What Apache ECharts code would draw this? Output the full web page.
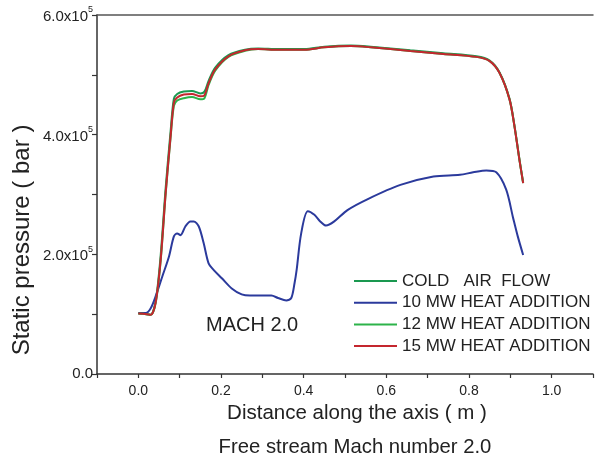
<!DOCTYPE html>
<html><head><meta charset="utf-8">
<script src="https://cdn.jsdelivr.net/npm/echarts@6/dist/echarts.min.js"></script>
<style>html,body{margin:0;padding:0;background:#fff}#c{width:596px;height:462px}</style>
</head><body><div id="c"></div>
<script>
// Distance along the axis (m) for the three upper curves
const topX = [0, 0.02, 0.03, 0.042, 0.054, 0.066, 0.078, 0.086, 0.094, 0.11, 0.13, 0.15, 0.16, 0.17, 0.186, 0.218, 0.258, 0.29, 0.338, 0.402, 0.45, 0.514, 0.562, 0.658, 0.738, 0.818, 0.85, 0.874, 0.898, 0.91, 0.922, 0.931];
const coldAir = [1.01e5, 1.0e5, 0.99e5, 1.22e5, 1.98e5, 3.10e5, 4.05e5, 4.60e5, 4.68e5, 4.72e5, 4.73e5, 4.69e5, 4.72e5, 4.90e5, 5.12e5, 5.33e5, 5.42e5, 5.44e5, 5.43e5, 5.43e5, 5.47e5, 5.49e5, 5.47e5, 5.41e5, 5.36e5, 5.31e5, 5.24e5, 5.04e5, 4.60e5, 4.15e5, 3.59e5, 3.20e5];
const mw12 = [1.01e5, 1.0e5, 0.99e5, 1.19e5, 1.89e5, 3.0e5, 3.95e5, 4.48e5, 4.57e5, 4.61e5, 4.63e5, 4.59e5, 4.61e5, 4.83e5, 5.07e5, 5.30e5, 5.40e5, 5.43e5, 5.42e5, 5.42e5, 5.46e5, 5.48e5, 5.46e5, 5.40e5, 5.35e5, 5.30e5, 5.23e5, 5.03e5, 4.59e5, 4.14e5, 3.58e5, 3.19e5];
const mw15 = [1.01e5, 1.0e5, 0.99e5, 1.20e5, 1.91e5, 3.02e5, 3.97e5, 4.53e5, 4.62e5, 4.67e5, 4.68e5, 4.64e5, 4.66e5, 4.86e5, 5.09e5, 5.31e5, 5.41e5, 5.43e5, 5.42e5, 5.42e5, 5.46e5, 5.48e5, 5.46e5, 5.40e5, 5.35e5, 5.30e5, 5.23e5, 5.03e5, 4.59e5, 4.14e5, 3.58e5, 3.19e5];
// 10 MW curve
const blueX = [0, 0.018, 0.03, 0.042, 0.058, 0.074, 0.086, 0.094, 0.102, 0.114, 0.126, 0.134, 0.146, 0.158, 0.17, 0.182, 0.202, 0.226, 0.25, 0.27, 0.298, 0.322, 0.338, 0.358, 0.37, 0.378, 0.383, 0.394, 0.41, 0.426, 0.44, 0.454, 0.474, 0.506, 0.554, 0.634, 0.714, 0.778, 0.81, 0.842, 0.866, 0.89, 0.906, 0.918, 0.931];
const mw10 = [1.02e5, 1.02e5, 1.1e5, 1.3e5, 1.63e5, 1.96e5, 2.30e5, 2.35e5, 2.32e5, 2.47e5, 2.55e5, 2.55e5, 2.47e5, 2.19e5, 1.85e5, 1.74e5, 1.60e5, 1.43e5, 1.33e5, 1.31e5, 1.31e5, 1.31e5, 1.27e5, 1.23e5, 1.27e5, 1.52e5, 1.74e5, 2.35e5, 2.72e5, 2.66e5, 2.55e5, 2.48e5, 2.55e5, 2.74e5, 2.92e5, 3.16e5, 3.30e5, 3.33e5, 3.37e5, 3.40e5, 3.37e5, 3.08e5, 2.63e5, 2.30e5, 1.99e5];
const seriesNames = ['COLD   AIR  FLOW', '10 MW HEAT ADDITION', '12 MW HEAT ADDITION', '15 MW HEAT ADDITION'];
const seriesColors = ['#1a9850', '#2b3a9c', '#2db34a', '#c4262e'];

const pair = (xs, ys) => xs.map((x, i) => [x, ys[i]]);
const seriesData = [pair(topX, coldAir), pair(blueX, mw10), pair(topX, mw12), pair(topX, mw15)];

const chart = echarts.init(document.getElementById('c'), null, {renderer: 'canvas'});
const font = 'Liberation Sans, Arial, sans-serif';
const txt = '#222';
chart.setOption({
  animation: false,
  backgroundColor: '#fff',
  textStyle: {fontFamily: font},
  grid: {left: 97, top: 15, width: 500, height: 359, containLabel: false},
  legend: {
    orient: 'vertical', left: 349, top: 266, itemWidth: 43, itemHeight: 2, itemGap: 1.7, icon: 'rect',
    textStyle: {fontSize: 17, lineHeight: 20, color: txt, fontFamily: font},
    data: seriesNames
  },
  xAxis: [{
    type: 'value', min: -0.1, max: 1.1, interval: 0.1,
    axisLine: {onZero: false, lineStyle: {color: '#333', width: 1.5}},
    axisTick: {length: 4, inside: false, lineStyle: {color: '#333', width: 1.2}},
    splitLine: {show: false},
    axisLabel: {fontSize: 14, color: txt, margin: 10, fontFamily: font,
      formatter: v => { const k = Math.round(v * 10); return (k % 2 === 0 && k >= 0 && k <= 10) ? (k / 10).toFixed(1) : ''; }}
  }, {
    type: 'value', position: 'top', min: -0.1, max: 1.1,
    axisLine: {show: true, onZero: false, lineStyle: {color: '#555', width: 1.5}},
    axisTick: {show: false}, axisLabel: {show: false}, splitLine: {show: false}
  }],
  yAxis: {
    type: 'value', min: 0, max: 6e5, interval: 1e5,
    axisLine: {show: true, onZero: false, lineStyle: {color: '#333', width: 1.5}},
    axisTick: {show: true, length: 5, lineStyle: {color: '#333', width: 1.2}},
    splitLine: {show: false},
    axisLabel: {margin: 4, color: txt, fontFamily: font,
      formatter: v => { const k = Math.round(v / 1e5); if (k === 0) return '{a|0.0}'; return k % 2 === 0 ? '{a|' + k.toFixed(1) + 'x10}{b|5}' : ''; },
      rich: {a: {fontSize: 15, color: txt, fontFamily: font, verticalAlign: 'bottom'}, b: {fontSize: 9, color: txt, verticalAlign: 'bottom', padding: [0, 0, 10, 0], fontFamily: font}}
    }
  },
  series: seriesNames.map((n, i) => ({
    name: n, type: 'line', data: seriesData[i], showSymbol: false, symbol: 'none', smooth: 0.3,
    color: seriesColors[i], lineStyle: {width: 2, color: seriesColors[i]}
  })),
  graphic: [
    {type: 'text', style: {text: 'Distance along the axis ( m )', x: 357, y: 413, align: 'center', verticalAlign: 'middle', fontSize: 20.5, fill: txt, fontFamily: font}},
    {type: 'text', style: {text: 'Free stream Mach number 2.0', x: 355, y: 447, align: 'center', verticalAlign: 'middle', fontSize: 20.3, fill: txt, fontFamily: font}},
    {type: 'text', x: 22, y: 240, rotation: Math.PI / 2, style: {text: 'Static pressure ( bar )', x: 0, y: 0, align: 'center', verticalAlign: 'middle', fontSize: 24, fill: txt, fontFamily: font}},
    {type: 'text', style: {text: 'MACH 2.0', x: 206, y: 325, align: 'left', verticalAlign: 'middle', fontSize: 20, fill: txt, fontFamily: font}}
  ]
});
</script></body></html>
